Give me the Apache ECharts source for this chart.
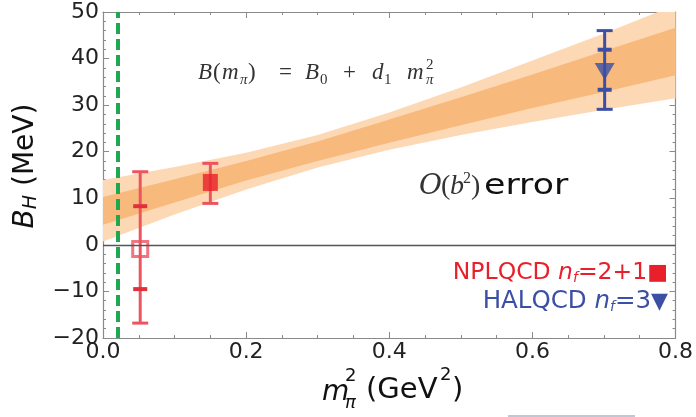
<!DOCTYPE html>
<html><head><meta charset="utf-8">
<script src="https://cdn.jsdelivr.net/npm/echarts@6/dist/echarts.min.js"></script>
<style>html,body{margin:0;padding:0;background:#fff}#c{width:696px;height:417px}</style>
</head><body><div id="c"></div>
<script>
// ---- data ----
const bandX      = [0, 0.1, 0.2, 0.3, 0.4, 0.5, 0.6, 0.7, 0.8];
const outerLow   = [0.7, 6.5, 11.9, 16.6, 20.4, 23.6, 26.4, 29.0, 31.5];
const innerLow   = [4.3, 9.1, 13.8, 18.0, 21.9, 25.7, 29.4, 32.8, 36.4];
const innerHigh  = [10.3, 14.1, 18.0, 22.2, 26.9, 31.7, 36.6, 41.6, 46.6];
const outerHigh  = [13.9, 16.7, 19.8, 23.6, 28.4, 33.8, 39.6, 45.4, 51.5];

const physPoint = 0.0195;           // physical m_pi^2 (green dashed line)

const pointNames = ['NPLQCD phys', 'NPLQCD', 'HALQCD'];
const pointX     = [0.052, 0.150, 0.701];
const pointY     = [-0.9, 13.4, 37.2];
const errOuterLo = [-16.8, 8.9, 29.1];
const errOuterHi = [15.7, 17.5, 46.0];
const errInnerLo = [-9.5, null, 33.3];
const errInnerHi = [8.3, null, 41.9];

const xTicks = [0, 0.2, 0.4, 0.6, 0.8];
const yTicks = [-20, -10, 0, 10, 20, 30, 40, 50];

const RED = '#ec5560', RED2 = '#e8202c', BLUE = '#3b4fa4';
const barColor = [RED, RED, BLUE];

const chart = echarts.init(document.getElementById('c'), null, {renderer: 'canvas'});

const sans = 'DejaVu Sans';
const serif = 'Liberation Serif';

function minus(v){ return String(v).replace('-', '\u2212'); }

function axisCommon() {
  return {
    axisLine: {show: true, onZero: false, lineStyle: {color: '#8a8a8a', width: 1.2}},
    axisTick: {show: true, inside: true, length: 6, lineStyle: {color: '#8a8a8a'}},
    minorTick: {show: true, length: 3, lineStyle: {color: '#8a8a8a'}},
    splitLine: {show: false}
  };
}

const xa0 = axisCommon(); xa0.minorTick.splitNumber = 4;
const xa1 = axisCommon(); xa1.minorTick.splitNumber = 4;
const ya0 = axisCommon(); ya0.minorTick.splitNumber = 5;
const ya1 = axisCommon(); ya1.minorTick.splitNumber = 5;

// text piece helper: baseline position (x, y)
function piece(text, x, y, size, family, italic, color, sx) {
  return {type: 'text', x: x, y: y - 0.32 * size, z: 100, scaleX: sx || 1,
    style: {text: text, font: (italic ? 'italic ' : '') + size + 'px "' + family + '"',
            fill: color, verticalAlign: 'middle', align: 'left'}};
}

const F = '#333';
const formulaPieces = [
  piece('B', 198, 80, 23, serif, true, F),
  piece('(', 213, 80, 23, serif, false, F),
  piece('m', 222, 80, 23, serif, true, F),
  piece('π', 240, 85, 15, serif, true, F),
  piece(')', 248, 80, 23, serif, false, F),
  piece('=', 279, 80, 23, serif, false, F),
  piece('B', 305, 80, 23, serif, true, F),
  piece('0', 320, 85, 15, serif, false, F),
  piece('+', 343, 80, 23, serif, false, F),
  piece('d', 372, 80, 23, serif, true, F),
  piece('1', 384, 85, 15, serif, false, F),
  piece('m', 407, 80, 23, serif, true, F),
  piece('2', 426, 70, 15, serif, false, F),
  piece('π', 426, 85, 15, serif, true, F)
];

const errPieces = [
  piece('O', 419, 196, 28, 'DejaVu Serif', true, F),
  piece('(', 441, 196, 28, serif, false, F),
  piece('b', 450, 196, 28, serif, true, F),
  piece('2', 463, 184, 16, serif, false, F),
  piece(')', 471, 196, 28, serif, false, F),
  piece('error', 484, 196, 29, sans, false, '#111', 1.2)
];

const option = {
  animation: false,
  grid: {left: 103, right: 18, top: 12, bottom: 79, containLabel: false},
  xAxis: [
    Object.assign({type: 'value', min: xTicks[0], max: xTicks[xTicks.length-1], interval: 0.2,
      axisLabel: {fontFamily: sans, fontSize: 22, color: '#222', margin: 3,
        formatter: v => v.toFixed(1)}}, xa0),
    Object.assign({type: 'value', position: 'top', min: xTicks[0], max: xTicks[xTicks.length-1], interval: 0.2,
      axisLabel: {show: false}}, xa1)
  ],
  yAxis: [
    Object.assign({type: 'value', min: yTicks[0], max: yTicks[yTicks.length-1], interval: 10,
      axisLabel: {fontFamily: sans, fontSize: 22, color: '#222', margin: 4,
        formatter: v => minus(v)}}, ya0),
    Object.assign({type: 'value', position: 'right', min: yTicks[0], max: yTicks[yTicks.length-1], interval: 10,
      axisLabel: {show: false}}, ya1)
  ],
  series: [
    { // error bands
      type: 'custom', clip: true, z: 1,
      data: [[0, 0]],
      renderItem: function (params, api) {
        const poly = (lo, hi) => {
          const pts = [];
          for (let i = 0; i < bandX.length; i++) pts.push(api.coord([bandX[i], hi[i]]));
          for (let i = bandX.length - 1; i >= 0; i--) pts.push(api.coord([bandX[i], lo[i]]));
          return pts;
        };
        return {type: 'group', children: [
          {type: 'polygon', shape: {points: poly(outerLow, outerHigh)}, style: {fill: '#fdd8b4'}},
          {type: 'polygon', shape: {points: poly(innerLow, innerHigh)}, style: {fill: '#f8b97d'}}
        ]};
      }
    },
    { // zero line and green physical line
      type: 'line', data: [], z: 2,
      markLine: {
        silent: true, symbol: 'none', label: {show: false},
        data: [
          {yAxis: 0, lineStyle: {color: '#555', width: 1.3, type: 'solid'}},
          {xAxis: physPoint, lineStyle: {color: '#1fa84f', width: 4, type: [11, 5]}}
        ]
      }
    },
    { // error bars
      type: 'custom', z: 3,
      data: pointX.map((x, i) => [x, pointY[i], errOuterLo[i], errOuterHi[i],
        errInnerLo[i] == null ? NaN : errInnerLo[i], errInnerHi[i] == null ? NaN : errInnerHi[i], i]),
      renderItem: function (params, api) {
        const x = api.value(0), idx = api.value(6);
        const c = barColor[idx];
        const lo = api.coord([x, api.value(2)]), hi = api.coord([x, api.value(3)]);
        const ch = [];
        const st = {stroke: c, lineWidth: 3};
        ch.push({type: 'line', shape: {x1: lo[0], y1: lo[1], x2: hi[0], y2: hi[1]}, style: st});
        const cap = 8;
        ch.push({type: 'line', shape: {x1: lo[0]-cap, y1: lo[1], x2: lo[0]+cap, y2: lo[1]}, style: st});
        ch.push({type: 'line', shape: {x1: hi[0]-cap, y1: hi[1], x2: hi[0]+cap, y2: hi[1]}, style: st});
        const il = api.value(4), ih = api.value(5);
        if (!isNaN(il)) {
          const a = api.coord([x, il]), b = api.coord([x, ih]);
          const st2 = {stroke: idx === 0 ? '#e0303c' : c, lineWidth: 4};
          const ic = 7;
          ch.push({type: 'line', shape: {x1: a[0]-ic, y1: a[1], x2: a[0]+ic, y2: a[1]}, style: st2});
          ch.push({type: 'line', shape: {x1: b[0]-ic, y1: b[1], x2: b[0]+ic, y2: b[1]}, style: st2});
        }
        return {type: 'group', children: ch};
      }
    },
    { type: 'scatter', z: 4, symbol: 'rect', symbolSize: [15, 15],
      data: [[pointX[0], pointY[0]]],
      itemStyle: {color: 'rgba(255,255,255,0)', borderColor: RED, borderWidth: 3} },
    { type: 'scatter', z: 4, symbol: 'rect', symbolSize: [15, 17],
      data: [[pointX[1], pointY[1]]],
      itemStyle: {color: RED2} },
    { type: 'scatter', z: 4, symbol: 'triangle', symbolRotate: 180, symbolSize: [20, 17],
      data: [[pointX[2], pointY[2]]],
      itemStyle: {color: BLUE} }
  ],
  graphic: [
    // y-axis title
    {type: 'text', x: 26, y: 166, rotation: Math.PI / 2,
      style: {text: '{b|B}{h|H} (MeV)', align: 'center', verticalAlign: 'middle',
        font: '28px "DejaVu Sans"', fill: '#111',
        rich: {b: {fontFamily: sans, fontSize: 28, fontStyle: 'italic', fill: '#111'},
               h: {fontFamily: sans, fontSize: 19, fontStyle: 'italic', fill: '#111', verticalAlign: 'bottom', padding: [10,0,0,0]}}}},
    // x-axis title
    {type: 'text', x: 322, y: 393, style: {text: 'm', font: 'italic 28px "DejaVu Sans"', fill: '#111', verticalAlign: 'middle'}},
    {type: 'text', x: 345, y: 376, style: {text: '2', font: '18px "DejaVu Sans"', fill: '#111', verticalAlign: 'middle'}},
    {type: 'text', x: 345, y: 403, style: {text: 'π', font: 'italic 18px "DejaVu Sans"', fill: '#111', verticalAlign: 'middle'}},
    {type: 'text', x: 366, y: 390, style: {text: '(GeV', font: '29px "DejaVu Sans"', fill: '#111', verticalAlign: 'middle'}},
    {type: 'text', x: 440, y: 375, style: {text: '2', font: '18px "DejaVu Sans"', fill: '#111', verticalAlign: 'middle'}},
    {type: 'text', x: 452, y: 390, style: {text: ')', font: '29px "DejaVu Sans"', fill: '#111', verticalAlign: 'middle'}}
  ].concat(formulaPieces, errPieces, [
    // legend texts
    {type: 'text', x: 668, y: 273, style: {
      text: '{a|NPLQCD }{n|n}{f|f}{a|=2+1}{m|■}', align: 'right', verticalAlign: 'middle',
      rich: {a: {fontFamily: sans, fontSize: 23.5, fill: '#e8202c'},
             n: {fontFamily: sans, fontStyle: 'italic', fontSize: 23.5, fill: '#e8202c'},
             f: {fontFamily: sans, fontStyle: 'italic', fontSize: 14, fill: '#e8202c', verticalAlign: 'bottom', padding: [8,0,0,0]},
             m: {fontFamily: sans, fontSize: 22, fill: '#e8202c'}}}},
    {type: 'text', x: 668, y: 302, style: {
      text: '{a|HALQCD }{n|n}{f|f}{a|=3}{m|▼}', align: 'right', verticalAlign: 'middle',
      rich: {a: {fontFamily: sans, fontSize: 24.5, fill: BLUE},
             n: {fontFamily: sans, fontStyle: 'italic', fontSize: 24.5, fill: BLUE},
             f: {fontFamily: sans, fontStyle: 'italic', fontSize: 14, fill: BLUE, verticalAlign: 'bottom', padding: [8,0,0,0]},
             m: {fontFamily: sans, fontSize: 22, fill: BLUE}}}},
    // faint line at the bottom
    {type: 'line', shape: {x1: 508, y1: 416, x2: 635, y2: 416}, style: {stroke: '#bfc8d5', lineWidth: 2}}
  ])
};
chart.setOption(option);
</script>
</body></html>
